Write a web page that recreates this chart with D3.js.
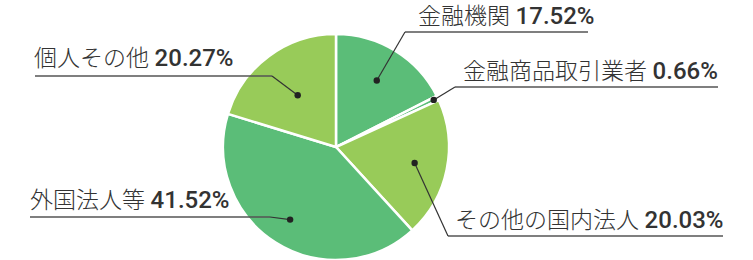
<!DOCTYPE html>
<html><head><meta charset="utf-8">
<script src="https://cdn.jsdelivr.net/npm/d3@7"></script>
<style>body{margin:0;background:#fff}svg{display:block}</style>
</head><body>
<svg id="c" width="753" height="260"></svg>
<script>
const categories = ["金融機関","金融商品取引業者","その他の国内法人","外国法人等","個人その他"];
const values = [17.52, 0.66, 20.03, 41.52, 20.27];
const valueLabels = ["17.52%","0.66%","20.03%","41.52%","20.27%"];

const colors = ["#5bbd78","#5bbd78","#98cb59","#5bbd78","#98cb59"];
// label layout: text x, baseline y, underline y, underline x1/x2, side, dot radius fraction
const layout = [
  {tx:418, ty:24, uy:32, ux1:405, ux2:588, side:"r", f:0.69},
  {tx:463, ty:79, uy:87, ux1:455, ux2:718, side:"r", f:0.96},
  {tx:455, ty:228, uy:236, ux1:448, ux2:723, side:"r", f:0.71},
  {tx:30, ty:208, uy:217, ux1:30, ux2:270, side:"l", f:0.76},
  {tx:34, ty:66, uy:76, ux1:35, ux2:272, side:"l", f:0.57}
];

const svg = d3.select("#c");
const cx = 336, cy = 147, R = 113;
const g = svg.append("g").attr("transform",`translate(${cx},${cy})`);
const pie = d3.pie().sort(null).value(d=>d)(values);
const arc = d3.arc().innerRadius(0).outerRadius(R);
g.selectAll("path").data(pie).join("path")
  .attr("d",arc).attr("fill",(d,i)=>colors[i])
  .attr("stroke","#fff").attr("stroke-width",2.5).attr("stroke-linejoin","round");

pie.forEach((d,i)=>{
  const L = layout[i];
  const a = (d.startAngle+d.endAngle)/2;
  const px = cx + L.f*R*Math.sin(a), py = cy - L.f*R*Math.cos(a);
  const ex = L.side==="r" ? L.ux1 : L.ux2;
  svg.append("line").attr("x1",L.ux1).attr("x2",L.ux2).attr("y1",L.uy).attr("y2",L.uy)
    .attr("stroke","#555").attr("stroke-width",1.5);
  svg.append("line").attr("x1",ex).attr("y1",L.uy).attr("x2",px).attr("y2",py)
    .attr("stroke","#333").attr("stroke-width",1.2);
  svg.append("circle").attr("cx",px).attr("cy",py).attr("r",3.2).attr("fill","#222");
  const t = svg.append("text").attr("x",L.tx).attr("y",L.ty)
    .attr("font-family","Roboto, 'Noto Sans CJK JP', sans-serif").attr("font-size",23)
    .attr("fill","#333");
  t.append("tspan").attr("font-weight",300).text(categories[i]+" ");
  t.append("tspan").attr("font-weight",500).attr("font-size",24).text(valueLabels[i]);
});
</script>
</body></html>
